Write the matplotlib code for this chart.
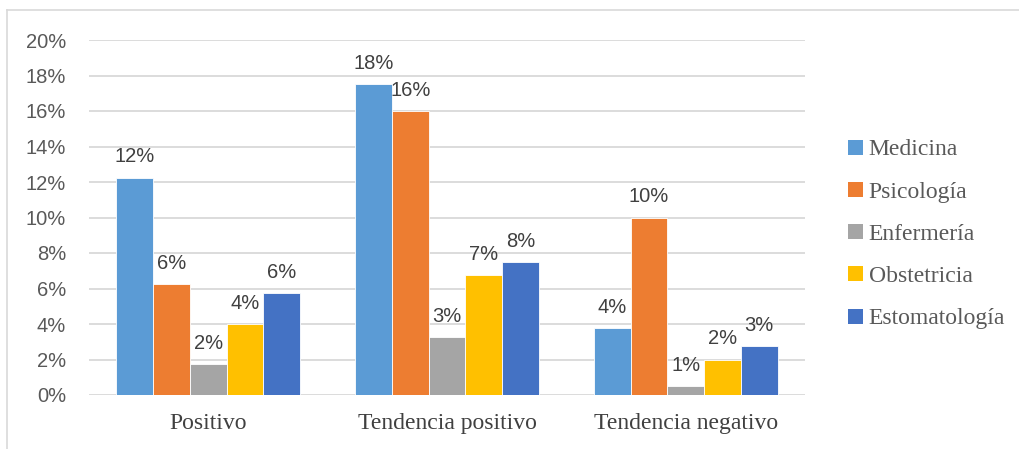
import math
import matplotlib
matplotlib.use("Agg")
import matplotlib.pyplot as plt
from matplotlib.lines import Line2D
from matplotlib.patches import Patch
import numpy as np

categories = ["Positivo", "Tendencia positivo", "Tendencia negativo"]
series_names = ["Medicina", "Psicología", "Enfermería", "Obstetricia", "Estomatología"]
medicina = [12.25, 17.5, 3.75]
psicologia = [6.25, 16.0, 10.0]
enfermeria = [1.75, 3.25, 0.5]
obstetricia = [4.0, 6.75, 2.0]
estomatologia = [5.75, 7.5, 2.75]
yticks = [0, 2, 4, 6, 8, 10, 12, 14, 16, 18, 20]

series = [medicina, psicologia, enfermeria, obstetricia, estomatologia]
colors = ["#5B9BD5", "#ED7D31", "#A5A5A5", "#FFC000", "#4472C4"]

W, H = 1020, 449
fig = plt.figure(figsize=(W / 100, H / 100), dpi=100)
left, right = 89 / W, 805 / W
bottom, top = 1 - 395 / H, 1 - 40 / H
ax = fig.add_axes([left, bottom, right - left, top - bottom])

sans = "Liberation Sans"
serif = "Liberation Serif"

n = len(series)
bw = 0.154
x = np.arange(len(categories))
for i, (vals, c, name) in enumerate(zip(series, colors, series_names)):
    pos = x + (i - (n - 1) / 2) * bw
    ax.bar(pos, vals, width=bw, color=c, edgecolor="white", linewidth=0.6, label=name, zorder=3)
    for xp, v in zip(pos, vals):
        lab = f"{math.floor(v + 0.5)}%"
        ax.annotate(lab, (xp, v), xytext=(0, 8), textcoords="offset points",
                    ha="center", va="bottom", fontsize=14.5, color="#404040", family=sans)

ax.set_xlim(-0.5, len(categories) - 0.5)
ax.set_ylim(0, 20)
ax.set_yticks(yticks)
ax.set_yticklabels([f"{t}%" for t in yticks], fontsize=14.5, color="#595959", family=sans)
ax.set_xticks(x)
ax.set_xticklabels(categories, fontsize=17, color="#404040", family=serif)
ax.tick_params(axis="both", length=0)
ax.tick_params(axis="y", pad=16.5)
ax.tick_params(axis="x", pad=13)
for s in ax.spines.values():
    s.set_visible(False)
ax.grid(axis="y", color="#D9D9D9", linewidth=1.3, zorder=0)
ax.set_axisbelow(True)

handles = [Patch(facecolor=c, edgecolor="none") for c in colors]
leg = fig.legend(handles, series_names, loc="upper left", bbox_to_anchor=(839 / W, 1 - 130 / H),
                 frameon=False, prop={"family": serif, "size": 17}, handlelength=0.6,
                 handleheight=0.6, handletextpad=0.25, labelspacing=0.90, borderaxespad=0)
for t in leg.get_texts():
    t.set_color("#595959")

fig.add_artist(Line2D([7 / W, 1], [1 - 10 / H, 1 - 10 / H], color="#D9D9D9", linewidth=1.2,
                      transform=fig.transFigure))
fig.add_artist(Line2D([7 / W, 7 / W], [0, 1 - 10 / H], color="#D9D9D9", linewidth=1.2,
                      transform=fig.transFigure))

fig.savefig("out.png", dpi=100, facecolor="white")
